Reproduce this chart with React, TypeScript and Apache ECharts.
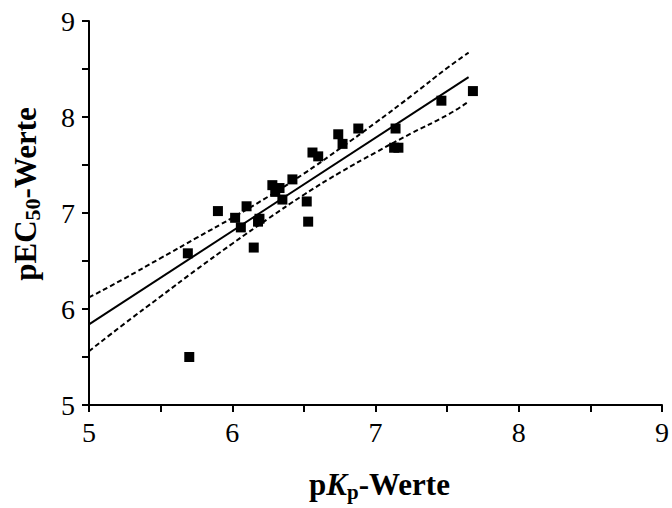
import React, { useEffect, useRef } from "react";
import * as echarts from "echarts";

const pKp = [5.69, 5.70, 5.90, 6.02, 6.06, 6.10, 6.15, 6.18, 6.19, 6.28, 6.30, 6.33, 6.35, 6.42, 6.52, 6.53, 6.56, 6.60, 6.74, 6.77, 6.88, 7.14, 7.13, 7.16, 7.46, 7.68];
const pEC50 = [6.58, 5.50, 7.02, 6.95, 6.85, 7.07, 6.64, 6.91, 6.94, 7.29, 7.22, 7.26, 7.14, 7.35, 7.12, 6.91, 7.63, 7.59, 7.82, 7.72, 7.88, 7.88, 7.68, 7.68, 8.17, 8.27];

const fitX = [5.0, 7.65];
const fitY = [5.84, 8.415];

const bandX = [5.0, 5.25, 5.5, 5.75, 6.0, 6.25, 6.5, 6.75, 7.0, 7.25, 7.5, 7.65];
const upperY = [6.12, 6.32, 6.53, 6.74, 6.95, 7.17, 7.41, 7.67, 7.94, 8.22, 8.51, 8.67];
const lowerY = [5.56, 5.85, 6.13, 6.41, 6.68, 6.94, 7.19, 7.42, 7.63, 7.83, 8.02, 8.16];

const xTicks = ["5", "6", "7", "8", "9"];
const yTicks = ["5", "6", "7", "8", "9"];

const FONT = "'Liberation Serif', 'Times New Roman', serif";

export default function App() {
  const ref = useRef<HTMLDivElement>(null);
  useEffect(() => {
    if (!ref.current) return;
    const chart = echarts.init(ref.current, null, { renderer: "svg" });
    const pts = pKp.map((x, i) => [x, pEC50[i]]);
    const fit = fitX.map((x, i) => [x, fitY[i]]);
    const up = bandX.map((x, i) => [x, upperY[i]]);
    const lo = bandX.map((x, i) => [x, lowerY[i]]);
    const fmtX = (v: number) => (xTicks.includes(String(v)) ? String(v) : "");
    const fmtY = (v: number) => (yTicks.includes(String(v)) ? String(v) : "");
    const axisCommon = {
      type: "value" as const,
      min: 5,
      max: 9,
      interval: 0.5,
      splitLine: { show: false },
      axisLine: { show: true, lineStyle: { color: "#000", width: 2 } },
      axisTick: { show: true, inside: false, length: 7, lineStyle: { color: "#000", width: 2 } },
    };
    chart.setOption({
      animation: false,
      backgroundColor: "#fff",
      grid: { left: 89, right: 9, top: 21, bottom: 103, containLabel: false },
      xAxis: {
        ...axisCommon,
        axisLabel: {
          formatter: fmtX,
          color: "#000",
          fontFamily: FONT,
          fontSize: 28,
          margin: 13,
          showMaxLabel: true,
          showMinLabel: true,
        },
        name: "{b|p}{bi|K}{sub|p}{b|-Werte}",
        nameLocation: "middle",
        nameGap: 62,
        nameTextStyle: {
          padding: [0, 0, 0, 8],
          rich: {
            b: { fontFamily: FONT, fontWeight: "bold", fontSize: 31, color: "#000" },
            bi: { fontFamily: FONT, fontWeight: "bold", fontStyle: "italic", fontSize: 31, color: "#000" },
            sub: { fontFamily: FONT, fontWeight: "bold", fontSize: 21, color: "#000", padding: [14, 0, 0, 0] },
          },
        },
      },
      yAxis: {
        ...axisCommon,
        axisLabel: {
          formatter: fmtY,
          color: "#000",
          fontFamily: FONT,
          fontSize: 28,
          margin: 14,
          showMaxLabel: true,
          showMinLabel: true,
        },
        name: "{b|pEC}{sub|50}{b|-Werte}",
        nameLocation: "middle",
        nameRotate: 90,
        nameGap: 46,
        nameTextStyle: {
          padding: [0, 0, 0, 38],
          rich: {
            b: { fontFamily: FONT, fontWeight: "bold", fontSize: 31, color: "#000" },
            sub: { fontFamily: FONT, fontWeight: "bold", fontSize: 22, color: "#000", padding: [14, 0, 0, 0] },
          },
        },
      },
      series: [
        {
          type: "line",
          data: fit,
          showSymbol: false,
          symbol: "none",
          lineStyle: { color: "#000", width: 2 },
          silent: true,
          z: 2,
        },
        {
          type: "line",
          data: up,
          smooth: true,
          showSymbol: false,
          symbol: "none",
          lineStyle: { color: "#000", width: 2, type: [5, 3] },
          silent: true,
          z: 2,
        },
        {
          type: "line",
          data: lo,
          smooth: true,
          showSymbol: false,
          symbol: "none",
          lineStyle: { color: "#000", width: 2, type: [5, 3] },
          silent: true,
          z: 2,
        },
        {
          type: "scatter",
          data: pts,
          symbol: "rect",
          symbolSize: 10,
          itemStyle: { color: "#000", opacity: 1 },
          z: 3,
        },
      ],
    });
    return () => chart.dispose();
  }, []);
  return <div ref={ref} style={{ width: 672, height: 508, position: "absolute", left: 0, top: 0 }} />;
}
